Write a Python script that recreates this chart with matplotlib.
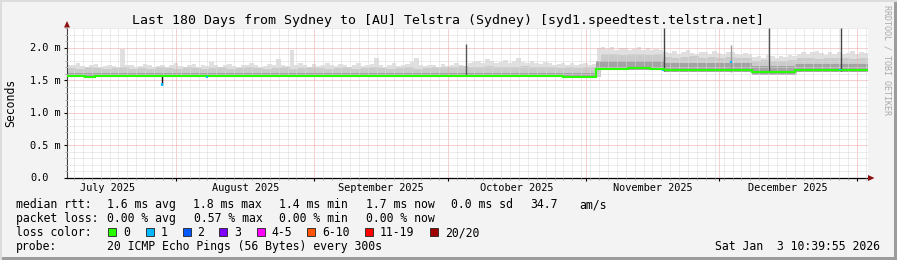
import datetime as dt
import numpy as np
import matplotlib
matplotlib.use('Agg')
import matplotlib.pyplot as plt
from matplotlib.patches import Rectangle, Polygon
from matplotlib.transforms import blended_transform_factory, ScaledTranslation

plt.rcParams['font.family'] = ['DejaVu Sans Mono', 'DejaVu Sans']

# ---- time range of the graph (local time) ----
t_end = dt.datetime(2026, 1, 3, 10, 39, 55)
t_start = t_end - dt.timedelta(days=180)

month_names = ['July 2025', 'August 2025', 'September 2025',
               'October 2025', 'November 2025', 'December 2025']
month_first = [dt.datetime(2025, m, 1) for m in range(7, 13)] + [dt.datetime(2026, 1, 1)]

# ---- smoke: slowest ping per day (ms) ----
smoke_top = [
    1.74, 1.73, 1.76, 1.72, 1.70, 1.73, 1.75, 1.71, 1.72, 1.74,
    1.72, 1.70, 1.98, 1.74, 1.74, 1.71, 1.72, 1.75, 1.73, 1.70,
    1.72, 1.74, 1.71, 1.73, 1.76, 1.72, 1.70, 1.74, 1.75, 1.71,
    1.73, 1.72, 1.78, 1.74, 1.71, 1.73, 1.75, 1.72, 1.70, 1.73,
    1.74, 1.76, 1.73, 1.71, 1.72, 1.75, 1.74, 1.83, 1.74, 1.72,
    1.97, 1.74, 1.76, 1.73, 1.71, 1.75, 1.72, 1.74, 1.77, 1.73,
    1.72, 1.75, 1.74, 1.71, 1.73, 1.76, 1.72, 1.74, 1.75, 1.84,
    1.73, 1.71, 1.74, 1.76, 1.72, 1.73, 1.75, 1.78, 1.85, 1.74,
    1.72, 1.74, 1.73, 1.71, 1.75, 1.72, 1.74, 1.76, 1.73, 1.72,
    1.76, 1.78, 1.80, 1.77, 1.83, 1.79, 1.76, 1.78, 1.81, 1.77,
    1.79, 1.85, 1.78, 1.76, 1.80, 1.77, 1.75, 1.78, 1.76, 1.74,
    1.75, 1.77, 1.74, 1.76, 1.73, 1.75, 1.77, 1.74, 1.75,
    2.00, 2.02, 1.98, 2.01, 1.97, 1.99, 2.00, 1.97, 1.98, 2.01,
    1.96, 1.99, 1.97, 1.98, 1.96,
    1.94, 1.92, 1.95, 1.91, 1.93, 1.96, 1.92, 1.90, 1.94, 1.93,
    1.91, 1.95, 1.92, 1.90, 1.93, 1.94, 1.91, 1.89, 1.92, 1.90,
    1.86, 1.88, 1.85, 1.89, 1.87, 1.84, 1.88, 1.86, 1.89, 1.87,
    1.91, 1.94, 1.90, 1.93, 1.95, 1.92, 1.89, 1.93, 1.91, 1.94,
    1.90, 1.92, 1.95, 1.91, 1.93, 1.92,
]

# ---- smoke: middle pings, 2-day bins (ms) ----
smoke_mid = [
    1.69, 1.68, 1.70, 1.69, 1.67, 1.69, 1.70, 1.68, 1.69, 1.68,
    1.70, 1.69, 1.68, 1.70, 1.69, 1.68, 1.69, 1.70, 1.68, 1.69,
    1.70, 1.69, 1.68, 1.69, 1.70, 1.68, 1.69, 1.70, 1.69, 1.68,
    1.69, 1.70, 1.68, 1.69, 1.70, 1.69, 1.68, 1.69, 1.70, 1.68,
    1.69, 1.70, 1.71, 1.70, 1.72, 1.71, 1.70, 1.72, 1.71, 1.70,
    1.71, 1.72, 1.70, 1.71, 1.70, 1.69, 1.70, 1.69, 1.70, 1.70,
    1.90, 1.91, 1.89, 1.90, 1.91, 1.89, 1.90,
    1.86, 1.85, 1.86, 1.87, 1.85, 1.86, 1.85, 1.86, 1.84, 1.85,
    1.80, 1.81, 1.79, 1.80, 1.81,
    1.84, 1.85, 1.83, 1.84, 1.85, 1.84, 1.83, 1.84,
]

# ---- smoke: inner band and lower edge per period ----
band_start = [0, 118.9, 134.2, 153.9, 163.6]
band_inner = [1.62, 1.79, 1.76, 1.72, 1.75]
band_low = [1.548, 1.665, 1.635, 1.585, 1.635]

# ---- median rtt (ms), step segments ----
med_start = [0, 4.0, 6.3, 111.5, 112.7, 118.9, 126.0, 131.0, 134.2,
             153.9, 163.6, 172.0, 174.5]
med_val = [1.560, 1.548, 1.560, 1.548, 1.558, 1.680, 1.686, 1.678, 1.654,
           1.630, 1.652, 1.660, 1.652]

# ---- single outliers (ms) ----
spike_day = [21.3, 89.7, 134.2, 149.2, 157.8, 173.9]
spike_lo = [1.43, 1.58, 1.65, 1.63, 1.63, 1.65]
spike_hi = [1.56, 2.06, 2.30, 2.04, 2.30, 2.30]

# ---- loss marks on the median ----
loss_day = [21.3, 31.5, 134.0, 149.2, 173.6]
loss_lo = [1.42, 1.53, 1.645, 1.76, 1.655]
loss_hi = [1.46, 1.56, 1.665, 1.79, 1.675]

loss_labels = ['0', '1', '2', '3', '4-5', '6-10', '11-19', '20/20']
loss_colors = ['#26ff00', '#00b8ff', '#0059ff', '#7e00ff',
               '#ff00ff', '#ff5500', '#ff0000', '#a10000']

stats_rtt = ['1.6 ms avg', '1.8 ms max', '1.4 ms min', '1.7 ms now',
             '0.0 ms sd', '34.7', 'am/s']
stats_loss = ['0.00 % avg', '0.57 % max', '0.00 % min', '0.00 % now']


def day(t):
    return (t - t_start).total_seconds() / 86400


W, H = 897, 260
fig = plt.figure(figsize=(W / 100, H / 100), dpi=100, facecolor='#f3f3f3')

x0, x1, y0, y1 = 67, 868, 178, 28.3
ax = fig.add_axes([x0 / W, (H - y0) / H, (x1 - x0) / W, (y0 - y1) / H])
ax.set_facecolor('white')
ax.set_xlim(0, 180)
ax.set_ylim(0, 2.3)

# smoke layers
days = np.arange(180)
idx_day = np.searchsorted(band_start, days, side='right') - 1
ax.stairs(smoke_top, np.arange(181), baseline=np.array(band_low)[idx_day],
          fill=True, color='#e0e0e0', lw=0, zorder=1)
bins = np.arange(0, 180, 2)
idx_bin = np.searchsorted(band_start, bins, side='right') - 1
ax.stairs(smoke_mid, np.arange(0, 181, 2), baseline=np.array(band_low)[idx_bin],
          fill=True, color='#cbcbcb', lw=0, zorder=1.1)
ax.stairs(band_inner, band_start + [180], baseline=band_low,
          fill=True, color='#a4a4a4', lw=0, zorder=1.2)

ax.vlines(spike_day, spike_lo, spike_hi,
          colors=['#111111', '#555555', '#444444', '#999999', '#555555', '#444444'],
          lw=1.0, zorder=2.7)

# median line
ax.stairs(med_val, med_start + [180], baseline=None, color=loss_colors[0],
          lw=1.5, zorder=3)
ax.vlines(loss_day, loss_lo, loss_hi, colors=loss_colors[1], lw=1.6, zorder=3.2)

# grid
month_days = [day(m) for m in month_first if 0 < day(m) < 180]
ep0 = (t_start - dt.datetime(1970, 1, 1)).total_seconds() / 86400
minor_days = [k - ep0 for k in range(int(ep0) + 1, int(ep0) + 181) if k % 2 == 0]
ax.set_xticks(month_days)
ax.set_xticks(minor_days, minor=True)
ax.set_yticks(np.arange(0, 2.01, 0.5))
ax.set_yticks(np.arange(0, 2.31, 0.1), minor=True)
ax.grid(which='minor', color='#d9d9d9', lw=0.72, linestyle=(0, (1, 1)))
ax.grid(which='major', color='#f2a0a0', lw=0.72, linestyle=(0, (1, 1)))
ax.set_axisbelow(False)
ax.tick_params(which='both', labelbottom=False, labelleft=False)
ax.tick_params(which='major', direction='out', length=2.5, width=0.8, color='#000000')
ax.tick_params(which='minor', direction='out', length=1.2, width=0.7, color='#aaaaaa')
for s in ['top', 'right']:
    ax.spines[s].set_visible(False)
ax.spines['left'].set_color('#404040')
ax.spines['bottom'].set_color('#000000')
ax.spines['left'].set_linewidth(0.8)
ax.spines['bottom'].set_linewidth(0.9)

# overlay in pixel coordinates for text and decorations
ov = fig.add_axes([0, 0, 1, 1], zorder=5)
ov.set_xlim(0, W)
ov.set_ylim(H, 0)
ov.axis('off')
ov.patch.set_alpha(0)

arrow_c = '#8b1010'
ov.add_patch(Polygon([[64, 27.5], [70, 27.5], [67, 21]], closed=True, color=arrow_c, lw=0))
ov.add_patch(Polygon([[868, 175], [868, 181], [874.5, 178]], closed=True, color=arrow_c, lw=0))

# frame
ov.add_patch(Rectangle((0, 257), W, 3, color='#9c9c9c', lw=0))
ov.add_patch(Rectangle((894, 0), 3, H, color='#9c9c9c', lw=0))
ov.add_patch(Rectangle((0, 0), W, 1.5, color='#dcdcdc', lw=0))
ov.add_patch(Rectangle((0, 0), 1.5, H, color='#dcdcdc', lw=0))

ov.text(448.5, 24, 'Last 180 Days from Sydney to [AU] Telstra (Sydney) '
        '[syd1.speedtest.telstra.net]', ha='center', va='baseline', fontsize=9.5)
ov.text(10.5, 103, 'Seconds', rotation=90, ha='center', va='center', fontsize=8.3)
ov.text(887, 60, 'RRDTOOL / TOBI OETIKER', rotation=270, ha='center', va='center',
        fontsize=6, color='#aaaaaa')

# y tick labels
ytr = blended_transform_factory(ov.transData, ax.transData) + \
    ScaledTranslation(0, -3.3 / 100, fig.dpi_scale_trans)
for v in np.arange(0, 2.01, 0.5):
    lab = '%.1f m' % v if v > 0 else '%.1f' % v
    ax.text(30, v, lab, transform=ytr, ha='left', va='baseline', fontsize=7.4,
            clip_on=False)

# month labels centred in each month
xtr = blended_transform_factory(ax.transData, ov.transData)
for name, a, b in zip(month_names, month_first[:-1], month_first[1:]):
    ov.text((day(a) + day(b)) / 2, 190.7, name, transform=xtr, ha='center',
            va='baseline', fontsize=7.4)

# legend rows
fs = 8.3
rows = [208.3, 222.3, 236.3, 250.0]
ov.text(16, rows[0], 'median rtt:', va='baseline', fontsize=fs)
for x, s in zip([107.3, 192.7, 279.0, 365.7, 451.0, 530.0, 579.0], stats_rtt):
    ov.text(x, rows[0], s, va='baseline', fontsize=fs)
ov.text(16, rows[1], 'packet loss:', va='baseline', fontsize=fs)
for x, s in zip([107.3, 194.0, 279.3, 365.7], stats_loss):
    ov.text(x, rows[1], s, va='baseline', fontsize=fs)
ov.text(16, rows[2], 'loss color:', va='baseline', fontsize=fs)
box_x = [108.3, 145.7, 182.7, 219.3, 256.7, 307.0, 365.3, 430.0]
for bx, c, s in zip(box_x, loss_colors, loss_labels):
    ov.add_patch(Rectangle((bx, 228), 8, 8, facecolor=c, edgecolor='#202020', lw=0.6))
    ov.text(bx + 14.8, rows[2], s, va='baseline', fontsize=fs)
ov.text(16, rows[3], 'probe:', va='baseline', fontsize=fs)
ov.text(107.3, rows[3], '20 ICMP Echo Pings (56 Bytes) every 300s', va='baseline', fontsize=fs)
ov.text(880, rows[3], 'Sat Jan  3 10:39:55 2026', ha='right', va='baseline', fontsize=fs)

fig.savefig('out.png', dpi=100, facecolor=fig.get_facecolor())
